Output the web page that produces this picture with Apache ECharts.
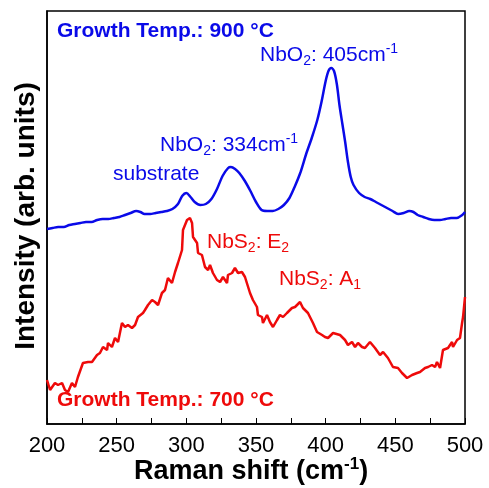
<!DOCTYPE html>
<html>
<head>
<meta charset="utf-8">
<script src="https://cdn.jsdelivr.net/npm/echarts@6/dist/echarts.min.js"></script>
<style>
  html, body { margin: 0; padding: 0; background: #ffffff; }
  #chart { width: 489px; height: 488px; }
</style>
</head>
<body>
<div id="chart"></div>
<script>
// Raman spectra of NbO2 (900 °C growth) and NbS2 (700 °C growth), offset vertically.
const shift900 = [200, 204, 208, 212, 216, 220, 224, 228, 232, 236, 240, 244, 248, 252, 256, 260, 264, 267, 270, 274, 278, 282, 286, 290, 294, 297, 300, 303, 306, 310, 314, 318, 322, 326, 330, 332, 335, 338, 342, 346, 350, 354, 358, 362, 366, 370, 374, 378, 382, 386, 390, 394, 397, 400, 402, 404, 406, 408, 410, 412, 414, 416, 418, 420, 424, 428, 432, 436, 440, 444, 448, 452, 456, 460, 463, 466, 470, 474, 478, 482, 486, 490, 494, 498, 500];
const intensity900 = [195, 196, 197, 197, 199, 200, 201, 202, 202, 204, 205, 205, 206, 207, 209, 211, 213, 212, 210, 210, 211, 212, 213, 215, 220, 228, 231, 227, 222, 219, 220, 225, 235, 248, 256, 257, 255, 251, 243, 233, 222, 214, 213, 213, 215, 219, 226, 238, 252, 270, 286, 304, 322, 343, 353, 356, 353, 340, 318, 300, 282, 262, 247, 239, 231, 227, 225, 222, 219, 216, 213, 210, 211, 213, 212, 209, 207, 205, 204, 204, 205, 206, 206, 209, 212];

const shift700 = [200.0, 202.2, 205.7, 207.9, 210.8, 212.9, 215.1, 217.9, 220.1, 222.2, 225.8, 229.4, 232.3, 235.9, 238.0, 240.2, 243.1, 243.8, 246.6, 248.8, 251.0, 253.8, 256.0, 258.1, 261.0, 263.2, 265.3, 268.9, 270.3, 272.5, 275.4, 277.5, 279.7, 282.5, 284.7, 286.8, 289.7, 291.9, 294.0, 296.9, 297.6, 300.5, 302.6, 304.1, 304.8, 307.7, 308.4, 311.2, 313.4, 315.6, 317.0, 319.1, 322.0, 324.2, 326.3, 329.2, 329.9, 332.8, 334.9, 337.1, 339.9, 342.1, 345.7, 347.8, 350.7, 351.4, 354.3, 355.0, 357.9, 360.0, 362.2, 365.1, 367.2, 369.4, 372.2, 375.8, 378.0, 381.6, 383.7, 387.3, 390.9, 393.8, 397.4, 399.5, 401.7, 403.1, 405.3, 410.3, 413.9, 416.0, 418.9, 421.1, 423.2, 426.1, 428.2, 431.8, 435.4, 439.0, 441.2, 444.7, 448.3, 451.9, 454.8, 458.4, 462.0, 465.6, 467.7, 471.3, 473.5, 476.3, 478.5, 479.9, 482.1, 484.2, 487.8, 490.7, 491.4, 494.3, 496.4, 497.9, 498.6, 500.0];
const intensity700 = [44, 34, 41, 39, 41, 34, 32, 41, 37, 47, 61, 62, 62, 69, 71, 77, 74, 81, 77, 86, 82, 101, 97, 99, 96, 99, 107, 111, 114, 119, 124, 122, 119, 131, 134, 146, 141, 152, 161, 174, 194, 204, 206, 201, 187, 181, 171, 169, 157, 154, 159, 151, 144, 142, 147, 141, 149, 151, 156, 151, 152, 147, 131, 124, 117, 109, 107, 101, 109, 102, 97, 104, 109, 107, 111, 116, 117, 122, 116, 111, 101, 92, 89, 87, 86, 84, 91, 89, 84, 79, 82, 77, 81, 77, 76, 82, 76, 69, 72, 66, 57, 56, 51, 46, 49, 51, 52, 56, 57, 59, 57, 62, 56, 74, 76, 82, 77, 84, 86, 101, 107, 127];

const xTicks = [200, 250, 300, 350, 400, 450, 500];

const BLUE = '#0a0ae8';
const RED = '#ee0a0a';
const FONT = '"Liberation Sans", Arial, sans-serif';

const pairs = (xs, ys) => xs.map((x, i) => [x, ys[i]]);

const chart = echarts.init(document.getElementById('chart'), null, { renderer: 'canvas' });

// rich-text styles: a = normal run, s = subscript, p = superscript
const scriptStyles = (color, size, weight) => ({
  a: { fontFamily: FONT, fontWeight: weight, fontSize: size, fill: color, lineHeight: 26, verticalAlign: 'middle' },
  s: { fontFamily: FONT, fontWeight: weight, fontSize: Math.round(size * 0.66), fill: color, lineHeight: 26, verticalAlign: 'bottom' },
  p: { fontFamily: FONT, fontWeight: weight, fontSize: Math.round(size * 0.66), fill: color, lineHeight: 26, verticalAlign: 'top' }
});

chart.setOption({
  animation: false,
  backgroundColor: '#ffffff',
  grid: {
    left: 47, top: 11, width: 418, height: 413,
    show: true, borderColor: '#000000', borderWidth: 1.5, backgroundColor: 'transparent'
  },
  xAxis: {
    type: 'value',
    min: xTicks[0],
    max: xTicks[xTicks.length - 1],
    interval: 50,
    axisLine: { show: true, onZero: false, lineStyle: { color: '#000', width: 1.5 } },
    axisTick: { show: true, inside: true, length: 6, lineStyle: { color: '#000', width: 1 } },
    minorTick: { show: true, splitNumber: 2, length: 6, lineStyle: { color: '#000', width: 1 } },
    splitLine: { show: false },
    axisLabel: { color: '#000', fontFamily: FONT, fontSize: 22, margin: 11 }
  },
  yAxis: {
    type: 'value',
    min: 0,
    max: 413,
    axisLine: { show: true, lineStyle: { color: '#000', width: 1.5 } },
    axisTick: { show: false },
    axisLabel: { show: false },
    splitLine: { show: false }
  },
  series: [
    {
      name: '900 °C',
      type: 'line',
      data: pairs(shift900, intensity900),
      showSymbol: false,
      smooth: 0.3,
      lineStyle: { color: BLUE, width: 2.5 }
    },
    {
      name: '700 °C',
      type: 'line',
      data: pairs(shift700, intensity700),
      showSymbol: false,
      lineStyle: { color: RED, width: 2.5 }
    }
  ],
  graphic: [
    {
      type: 'text', left: 57, top: 21,
      style: { text: 'Growth Temp.: 900 °C', fill: BLUE, font: 'bold 21px ' + FONT }
    },
    {
      type: 'text', left: 57, top: 390,
      style: { text: 'Growth Temp.: 700 °C', fill: RED, font: 'bold 21px ' + FONT }
    },
    {
      type: 'text', left: 260, top: 42,
      style: { text: '{a|NbO}{s|2}{a|: 405cm}{p|-1}', rich: scriptStyles(BLUE, 21, 'normal') }
    },
    {
      type: 'text', left: 160, top: 132,
      style: { text: '{a|NbO}{s|2}{a|: 334cm}{p|-1}', rich: scriptStyles(BLUE, 21, 'normal') }
    },
    {
      type: 'text', left: 113, top: 164,
      style: { text: 'substrate', fill: BLUE, font: '21px ' + FONT }
    },
    {
      type: 'text', left: 207, top: 232,
      style: { text: '{a|NbS}{s|2}{a|: E}{s|2}', rich: scriptStyles(RED, 21, 'normal') }
    },
    {
      type: 'text', left: 279, top: 269,
      style: { text: '{a|NbS}{s|2}{a|: A}{s|1}', rich: scriptStyles(RED, 21, 'normal') }
    },
    {
      type: 'text', left: 134, top: 456,
      style: { text: '{a|Raman shift (cm}{p|-1}{a|)}', rich: {
        a: { fontFamily: FONT, fontWeight: 'bold', fontSize: 27, fill: '#000', lineHeight: 32, verticalAlign: 'middle' },
        p: { fontFamily: FONT, fontWeight: 'bold', fontSize: 17, fill: '#000', lineHeight: 32, verticalAlign: 'top' }
      } }
    },
    {
      type: 'text', x: 26, y: 216, rotation: Math.PI / 2,
      style: { text: 'Intensity (arb. units)', fill: '#000', font: 'bold 28px ' + FONT, align: 'center', verticalAlign: 'middle' }
    }
  ]
});
</script>
</body>
</html>
